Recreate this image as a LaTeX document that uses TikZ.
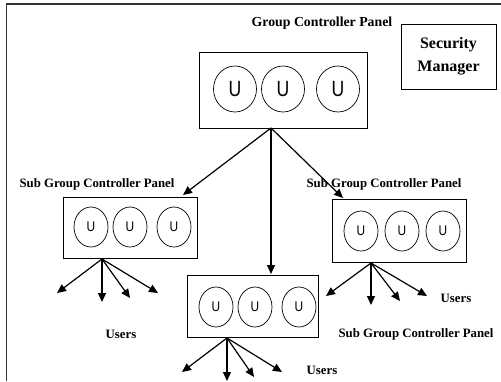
\documentclass[tikz,border=0pt]{standalone}
\usepackage{fontspec}
\setmainfont{Liberation Serif}
\newfontfamily\usans{Liberation Sans}
\usetikzlibrary{shapes.geometric,arrows.meta}
\newcommand{\ubigtext}{\scalebox{0.8}[1]{U}}
\newcommand{\usmalltext}{\scalebox{0.85}[1]{U}}
\begin{document}
\begin{tikzpicture}[x=1pt,y=-1pt,
  panel/.style={draw,line width=0.9pt,inner sep=0pt,rectangle},
  ubig/.style={draw,line width=0.7pt,ellipse,inner sep=0pt,minimum width=43pt,minimum height=46pt,font=\usans\fontsize{22}{22}\selectfont},
  usmall/.style={draw,line width=0.7pt,ellipse,inner sep=0pt,minimum width=34pt,minimum height=40pt,font=\usans\fontsize{14}{14}\selectfont},
  lbl/.style={font=\bfseries\fontsize{12.8}{12.8}\selectfont,inner sep=0pt},
  arr/.style={line width=1.2pt,-{Triangle[length=9pt,width=8pt]}},
  frame/.style={line width=1.4pt,draw=black!80}
]
\useasboundingbox (0,0) rectangle (501,381);
\draw[frame] (6.5,381) -- (6.5,4) -- (501,4);

% Security manager
\node[panel,minimum width=95pt,minimum height=65pt,align=center,font=\bfseries\fontsize{16}{23}\selectfont] (sm) at (448.5,56.5) {Security\\Manager};

% Top panel
\node[panel,minimum width=168pt,minimum height=76pt] (top) at (283,90) {};
\node[ubig] (t1) at (235,89) {\ubigtext};
\node[ubig] (t2) at (283,89) {\ubigtext};
\node[ubig] (t3) at (338,89) {\ubigtext};
\node[lbl,font=\bfseries\fontsize{13.8}{13.8}\selectfont] (ltop) at (322,23) {Group Controller Panel};

% Left sub panel
\node[panel,minimum width=134pt,minimum height=61pt] (left) at (130,227.5) {};
\node[usmall] (l1) at (91,227) {\usmalltext};
\node[usmall] (l2) at (130,227) {\usmalltext};
\node[usmall] (l3) at (174,227) {\usmalltext};
\node[lbl] (lleft) at (97,184) {Sub Group Controller Panel};

% Right sub panel
\node[panel,minimum width=134pt,minimum height=63pt] (right) at (399,230.5) {};
\node[usmall] (r1) at (361,231) {\usmalltext};
\node[usmall] (r2) at (402,231) {\usmalltext};
\node[usmall] (r3) at (443,231) {\usmalltext};
\node[lbl] (lright) at (384,184) {Sub Group Controller Panel};

% Middle sub panel
\node[panel,minimum width=131pt,minimum height=62pt] (mid) at (252.5,306) {};
\node[usmall] (m1) at (216,307) {\usmalltext};
\node[usmall] (m2) at (255,307) {\usmalltext};
\node[usmall] (m3) at (299,307) {\usmalltext};
\node[lbl] (lmid) at (416,334) {Sub Group Controller Panel};

% Users labels
\node[lbl] (uleft) at (121,334) {Users};
\node[lbl] (uright) at (456,298) {Users};
\node[lbl] (umid) at (322,370) {Users};

% Connection points
\coordinate (topo) at (271,128);
\coordinate (leftin) at (183,195);
\coordinate (midin) at (271,274);
\coordinate (rightin) at (343,198);
\draw[arr] (topo) -- (leftin);
\draw[arr] (topo) -- (midin);
\draw[arr] (topo) -- (rightin);

% Users arrows left
\coordinate (lo) at (102,259);
\coordinate (la) at (57,293);
\coordinate (lb) at (102,302);
\coordinate (lc) at (130,298);
\coordinate (ld) at (158,293);
\foreach \e in {la,lb,lc,ld} \draw[arr] (lo) -- (\e);

% Users arrows right
\coordinate (ro) at (371,263);
\coordinate (ra) at (326,296);
\coordinate (rb) at (371,305);
\coordinate (rc) at (400,301);
\coordinate (rd) at (427,296);
\foreach \e in {ra,rb,rc,rd} \draw[arr] (ro) -- (\e);

% Users arrows middle
\coordinate (mo) at (227,338);
\coordinate (ma) at (182,372);
\coordinate (mb) at (227,381);
\coordinate (mc) at (254,377);
\coordinate (md) at (282,372);
\foreach \e in {ma,mb,mc,md} \draw[arr] (mo) -- (\e);
\end{tikzpicture}
\end{document}
